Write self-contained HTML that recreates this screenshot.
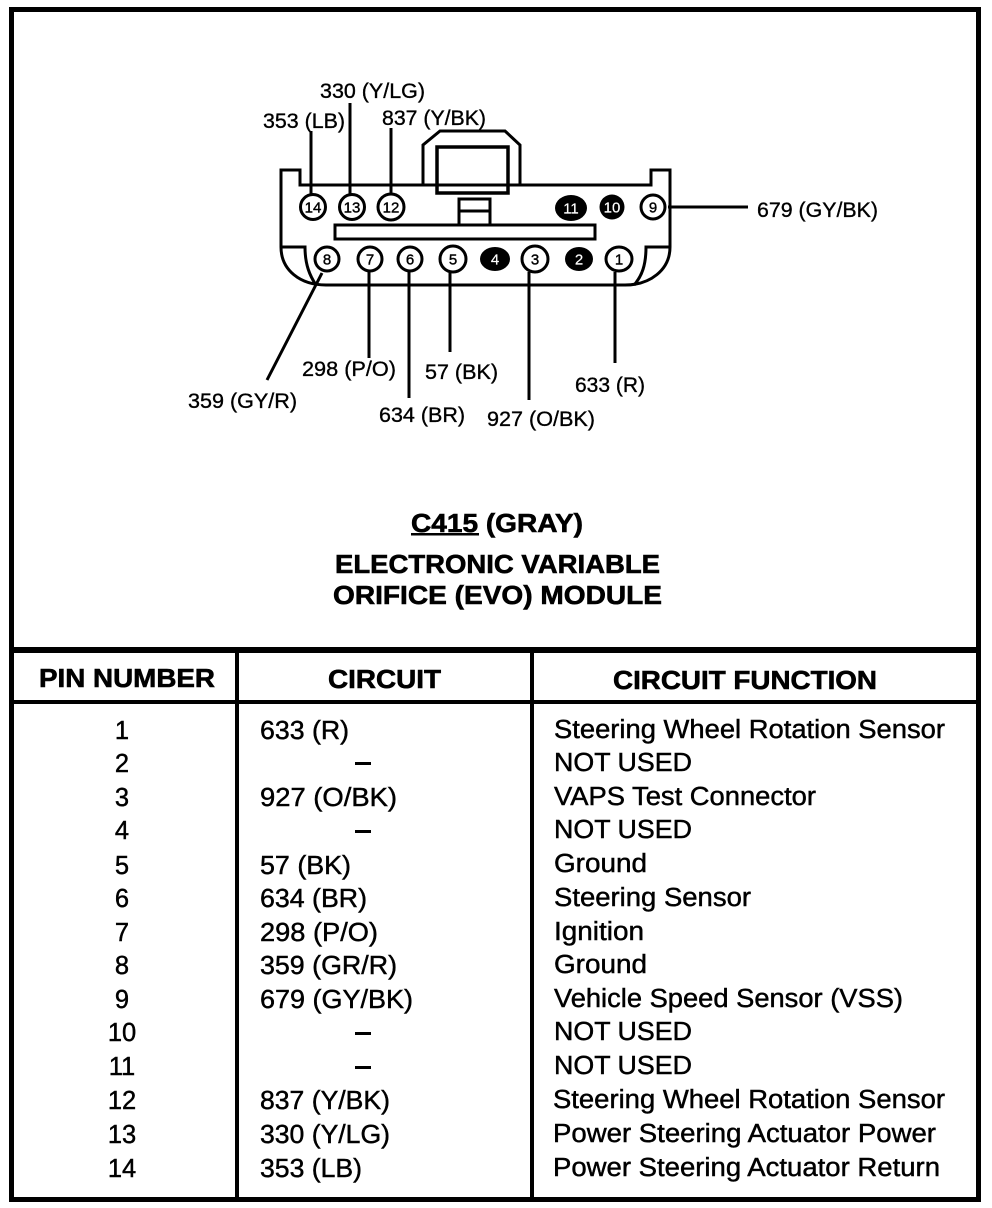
<!DOCTYPE html>
<html><head><meta charset="utf-8"><style>
html,body{margin:0;padding:0;background:#fff;width:992px;height:1208px;overflow:hidden}
svg{display:block}
text{font-family:"Liberation Sans",sans-serif;fill:#000}
.l{font-size:21px;stroke:#000;stroke-width:.35}
.t{font-size:25.5px;stroke:#000;stroke-width:.45}
.n{font-size:25.5px;stroke:#000;stroke-width:.45;text-anchor:middle}
.h{font-size:26px;font-weight:bold;stroke:#000;stroke-width:.6}
.p{font-size:15px;text-anchor:middle;stroke:#000;stroke-width:.4}
.w{fill:#fff;stroke:#fff;stroke-width:.2}
.c{fill:#fff;stroke:#000;stroke-width:3}
.b{fill:#000}
.ln{stroke:#000;stroke-width:3;fill:none}
</style></head><body>
<svg width="992" height="1208" viewBox="0 0 992 1208" xmlns="http://www.w3.org/2000/svg">
<rect width="992" height="1208" fill="#fff"/>
<g fill="#000">
<rect x="9" y="7" width="972" height="5"/>
<rect x="9" y="1197" width="972" height="5"/>
<rect x="9" y="7" width="5" height="1195"/>
<rect x="976" y="7" width="5" height="1195"/>
<rect x="9" y="647" width="972" height="6"/>
<rect x="9" y="700" width="972" height="4"/>
<rect x="235" y="650" width="4" height="550"/>
<rect x="530" y="650" width="4" height="550"/>
</g>
<g class="ln">
<path d="M423 185V145L440 131H505L520 145V185"/>
<path stroke-width="3.5" d="M437 147H508V193H437Z"/>
<path d="M281 247V170H300V185H651V170H670V247C670 270 650 285 625 285H326C300 285 281 270 281 247Z"/>
<path d="M281 247H305C305 265 310 276 316 285"/>
<path d="M670 247H646C646 265 642 276 634 285"/>
<path d="M459 225V199H490V225M459 211H490"/>
<rect x="335" y="225" width="260" height="14"/>
<path d="M311 131V197M350 103V197M391 128V195M668 207H748M322 273L267 380M369 272V358M409 272V398M450 272V352M529 272V400M615 272V363"/>
</g>
<circle class="c" cx="313" cy="207" r="12.5"/><text class="p" x="313" y="212.500">14</text>
<circle class="c" cx="352" cy="207" r="12.5"/><text class="p" x="352" y="212.500">13</text>
<circle class="c" cx="391" cy="207" r="13"/><text class="p" x="391" y="212.500">12</text>
<ellipse class="b" cx="571" cy="208" rx="16" ry="13"/><text class="p w" x="571" y="213.500">11</text>
<circle class="b" cx="612" cy="207" r="12.500"/><text class="p w" x="612" y="212.500">10</text>
<circle class="c" cx="653" cy="207" r="12"/><text class="p" x="653" y="212.500">9</text>
<circle class="c" cx="327" cy="259" r="12"/><text class="p" x="327" y="264.500">8</text>
<circle class="c" cx="370" cy="259" r="12"/><text class="p" x="370" y="264.500">7</text>
<circle class="c" cx="410" cy="259" r="12"/><text class="p" x="410" y="264.500">6</text>
<circle class="c" cx="453" cy="259" r="13"/><text class="p" x="453" y="264.500">5</text>
<ellipse class="b" cx="495" cy="259" rx="15" ry="12"/><text class="p w" x="495" y="264.500">4</text>
<circle class="c" cx="535" cy="259" r="13"/><text class="p" x="535" y="264.500">3</text>
<ellipse class="b" cx="579" cy="259" rx="14" ry="12"/><text class="p w" x="579" y="264.500">2</text>
<ellipse class="c" cx="619" cy="259" rx="13" ry="12"/><text class="p" x="619" y="264.500">1</text>

<g class="l" >
<text x="320" y="98" textLength="105" lengthAdjust="spacingAndGlyphs">330 (Y/LG)</text>
<text x="263" y="128" textLength="82" lengthAdjust="spacingAndGlyphs">353 (LB)</text>
<text x="382" y="125" textLength="104" lengthAdjust="spacingAndGlyphs">837 (Y/BK)</text>
<text x="757" y="217" textLength="121" lengthAdjust="spacingAndGlyphs">679 (GY/BK)</text>
<text x="302" y="376" textLength="94" lengthAdjust="spacingAndGlyphs">298 (P/O)</text>
<text x="425" y="379" textLength="73" lengthAdjust="spacingAndGlyphs">57 (BK)</text>
<text x="575" y="392" textLength="70" lengthAdjust="spacingAndGlyphs">633 (R)</text>
<text x="188" y="408" textLength="109" lengthAdjust="spacingAndGlyphs">359 (GY/R)</text>
<text x="379" y="422" textLength="86" lengthAdjust="spacingAndGlyphs">634 (BR)</text>
<text x="487" y="426" textLength="108" lengthAdjust="spacingAndGlyphs">927 (O/BK)</text>
</g>

<g class="h">
<text x="411" y="532" textLength="172" lengthAdjust="spacingAndGlyphs">C415 (GRAY)</text>
<text x="335" y="573" textLength="325" lengthAdjust="spacingAndGlyphs">ELECTRONIC VARIABLE</text>
<text x="333" y="604" textLength="329" lengthAdjust="spacingAndGlyphs">ORIFICE (EVO) MODULE</text>
<text x="39" y="687" textLength="176" lengthAdjust="spacingAndGlyphs">PIN NUMBER</text>
<text x="328" y="688" textLength="113" lengthAdjust="spacingAndGlyphs">CIRCUIT</text>
<text x="613" y="689" textLength="264" lengthAdjust="spacingAndGlyphs">CIRCUIT FUNCTION</text>
</g>
<rect x="411" y="533" width="68" height="2.500" fill="#000"/>

<g>
<text class="n" x="122" y="739">1</text>
<text class="n" x="122" y="772">2</text>
<text class="n" x="122" y="806">3</text>
<text class="n" x="122" y="839">4</text>
<text class="n" x="122" y="874">5</text>
<text class="n" x="122" y="907">6</text>
<text class="n" x="122" y="941">7</text>
<text class="n" x="122" y="974">8</text>
<text class="n" x="122" y="1008">9</text>
<text class="n" x="122" y="1041">10</text>
<text class="n" x="122" y="1075">11</text>
<text class="n" x="122" y="1109">12</text>
<text class="n" x="122" y="1143">13</text>
<text class="n" x="122" y="1177">14</text>
</g>
<g class="t">
<text x="260" y="739" textLength="89" lengthAdjust="spacingAndGlyphs">633 (R)</text>
<text x="260" y="806" textLength="137" lengthAdjust="spacingAndGlyphs">927 (O/BK)</text>
<text x="260" y="874" textLength="91" lengthAdjust="spacingAndGlyphs">57 (BK)</text>
<text x="260" y="907" textLength="107" lengthAdjust="spacingAndGlyphs">634 (BR)</text>
<text x="260" y="941" textLength="118" lengthAdjust="spacingAndGlyphs">298 (P/O)</text>
<text x="260" y="974" textLength="137" lengthAdjust="spacingAndGlyphs">359 (GR/R)</text>
<text x="260" y="1008" textLength="153" lengthAdjust="spacingAndGlyphs">679 (GY/BK)</text>
<text x="260" y="1109" textLength="130" lengthAdjust="spacingAndGlyphs">837 (Y/BK)</text>
<text x="260" y="1143" textLength="130" lengthAdjust="spacingAndGlyphs">330 (Y/LG)</text>
<text x="260" y="1177" textLength="102" lengthAdjust="spacingAndGlyphs">353 (LB)</text>

<text x="554" y="738" textLength="391" lengthAdjust="spacingAndGlyphs">Steering Wheel Rotation Sensor</text>
<text x="554" y="771" textLength="138" lengthAdjust="spacingAndGlyphs">NOT USED</text>
<text x="554" y="805" textLength="262" lengthAdjust="spacingAndGlyphs">VAPS Test Connector</text>
<text x="554" y="838" textLength="138" lengthAdjust="spacingAndGlyphs">NOT USED</text>
<text x="554" y="872" textLength="93" lengthAdjust="spacingAndGlyphs">Ground</text>
<text x="554" y="906" textLength="197" lengthAdjust="spacingAndGlyphs">Steering Sensor</text>
<text x="554" y="940" textLength="90" lengthAdjust="spacingAndGlyphs">Ignition</text>
<text x="554" y="973" textLength="93" lengthAdjust="spacingAndGlyphs">Ground</text>
<text x="554" y="1007" textLength="349" lengthAdjust="spacingAndGlyphs">Vehicle Speed Sensor (VSS)</text>
<text x="554" y="1040" textLength="138" lengthAdjust="spacingAndGlyphs">NOT USED</text>
<text x="554" y="1074" textLength="138" lengthAdjust="spacingAndGlyphs">NOT USED</text>
<text x="553" y="1108" textLength="392" lengthAdjust="spacingAndGlyphs">Steering Wheel Rotation Sensor</text>
<text x="553" y="1142" textLength="383" lengthAdjust="spacingAndGlyphs">Power Steering Actuator Power</text>
<text x="553" y="1176" textLength="387" lengthAdjust="spacingAndGlyphs">Power Steering Actuator Return</text>
</g>
<g fill="#000">
<rect x="355" y="762" width="16" height="3"/>
<rect x="355" y="830" width="16" height="3"/>
<rect x="355" y="1032" width="16" height="3"/>
<rect x="355" y="1066" width="16" height="3"/>
</g>
</svg>
</body></html>
